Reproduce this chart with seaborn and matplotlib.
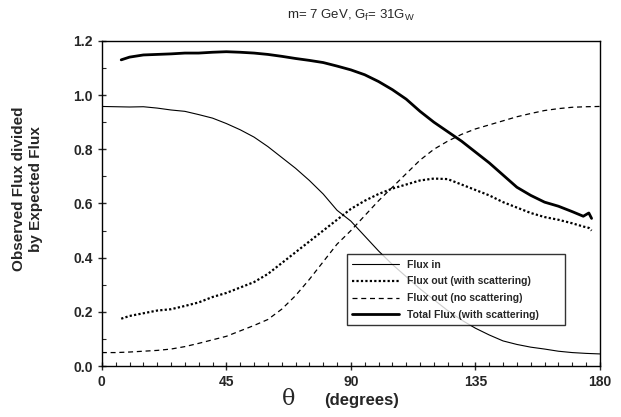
import numpy as np
import pandas as pd
import matplotlib.pyplot as plt
import seaborn as sns
from matplotlib.ticker import MultipleLocator

sns.set_theme(style="ticks")
plt.rcParams["font.family"] = ["Liberation Sans", "DejaVu Sans"]

# theta grid (degrees) for the curves that span the whole range
theta_full = [0, 5, 10, 15, 20, 25, 30, 35, 40, 45, 50, 55, 60, 65, 70, 75, 80, 85, 90,
              95, 100, 105, 110, 115, 120, 125, 130, 135, 140, 145, 150, 155, 160, 165,
              170, 175, 180]
flux_in = [0.958, 0.957, 0.956, 0.957, 0.952, 0.945, 0.940, 0.928, 0.915, 0.895, 0.872,
           0.845, 0.810, 0.770, 0.730, 0.685, 0.635, 0.575, 0.535, 0.480, 0.425, 0.375,
           0.330, 0.285, 0.245, 0.205, 0.170, 0.140, 0.115, 0.093, 0.080, 0.070, 0.063,
           0.055, 0.050, 0.047, 0.045]
flux_out_noscat = [0.050, 0.050, 0.052, 0.055, 0.058, 0.063, 0.072, 0.084, 0.097, 0.110,
                   0.130, 0.150, 0.172, 0.210, 0.260, 0.320, 0.385, 0.450, 0.500, 0.555,
                   0.610, 0.660, 0.710, 0.760, 0.800, 0.830, 0.855, 0.875, 0.890, 0.905,
                   0.920, 0.932, 0.943, 0.950, 0.955, 0.957, 0.958]

# curves with scattering start a bit away from 0 and stop before 180
theta_scat = [7, 10, 15, 20, 25, 30, 35, 40, 45, 50, 55, 60, 65, 70, 75, 80, 85, 90, 95,
              100, 105, 110, 115, 120, 125, 130, 135, 140, 145, 150, 155, 160, 165, 170,
              174, 176, 177]
flux_out_scat = [0.175, 0.185, 0.195, 0.205, 0.210, 0.222, 0.235, 0.255, 0.270, 0.290,
                 0.310, 0.340, 0.380, 0.420, 0.460, 0.500, 0.540, 0.580, 0.610, 0.635,
                 0.655, 0.670, 0.685, 0.692, 0.690, 0.670, 0.650, 0.630, 0.605, 0.585,
                 0.565, 0.550, 0.540, 0.527, 0.515, 0.510, 0.500]
total_flux = [1.130, 1.140, 1.148, 1.150, 1.152, 1.155, 1.155, 1.158, 1.160, 1.158, 1.155,
              1.150, 1.143, 1.135, 1.128, 1.120, 1.107, 1.093, 1.075, 1.050, 1.020, 0.985,
              0.940, 0.900, 0.865, 0.830, 0.790, 0.750, 0.705, 0.660, 0.630, 0.605, 0.590,
              0.570, 0.553, 0.565, 0.545]

labels = ["Flux in", "Flux out (with scattering)", "Flux out (no scattering)",
          "Total Flux (with scattering)"]
xticks = [0, 45, 90, 135, 180]

fig = plt.figure(figsize=(6.21, 4.17), dpi=100)
ax = fig.add_axes([0.164, 0.122, 0.802, 0.780])

sns.lineplot(x=theta_full, y=flux_in, ax=ax, color="black", lw=0.8, label=labels[0])
sns.lineplot(x=theta_scat, y=flux_out_scat, ax=ax, color="black", lw=1.6,
             linestyle=(0, (1, 1)), label=labels[1])
sns.lineplot(x=theta_full, y=flux_out_noscat, ax=ax, color="black", lw=0.9,
             linestyle=(0, (4, 3)), label=labels[2])
sns.lineplot(x=theta_scat, y=total_flux, ax=ax, color="black", lw=2.0, label=labels[3])

ax.set_xlim(0, 180)
ax.set_ylim(0, 1.2)
ax.set_xticks(xticks)
ax.set_xticklabels([str(t) for t in xticks])
ax.xaxis.set_minor_locator(MultipleLocator(5))
ax.yaxis.set_major_locator(MultipleLocator(0.2))
ax.yaxis.set_minor_locator(MultipleLocator(0.1))
ax.yaxis.set_major_formatter(plt.FormatStrFormatter("%.1f"))
ax.tick_params(which="major", direction="inout", length=6, width=1, labelsize=10)
ax.tick_params(which="minor", direction="in", length=3, width=0.8)
for lab in ax.get_xticklabels() + ax.get_yticklabels():
    lab.set_fontweight("bold")
for sp in ax.spines.values():
    sp.set_visible(True)
    sp.set_linewidth(1.0)
    sp.set_color("black")

ax.set_ylabel("Observed Flux divided\nby Expected Flux", fontsize=11, fontweight="bold",
              linespacing=1.25)
ax.yaxis.set_label_coords(-0.118, 0.545)
ax.set_xlabel("")
fig.text(0.465, 0.028, "\u03b8", family="DejaVu Serif", fontsize=16, ha="center")
fig.text(0.583, 0.028, "(degrees)", fontsize=12, fontweight="bold", ha="center")
fig.text(0.565, 0.955, "m= 7 GeV, G$_\\mathregular{f}$= 31G$_\\mathregular{W}$",
         fontsize=9.5, ha="center")

leg = ax.legend(loc="lower left", bbox_to_anchor=(0.492, 0.126, 0.438, 0.215),
                mode="expand", borderaxespad=0, fontsize=7.5, frameon=True,
                fancybox=False, edgecolor="black", handlelength=4.5, borderpad=0.5,
                labelspacing=0.65)
leg.get_frame().set_linewidth(1.0)
for t in leg.get_texts():
    t.set_fontweight("bold")

fig.savefig("out.png", dpi=100)
